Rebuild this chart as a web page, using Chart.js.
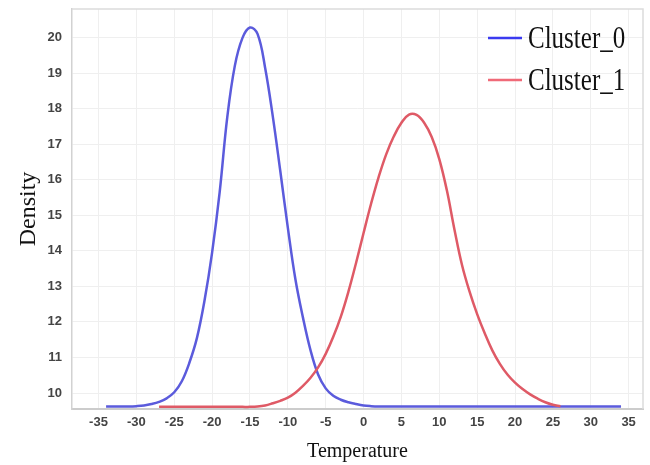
<!DOCTYPE html>
<html>
<head>
<meta charset="utf-8">
<script src="https://cdn.jsdelivr.net/npm/chart.js@4.4.0/dist/chart.umd.min.js"></script>
<style>
  html, body { margin: 0; padding: 0; background: #fff; }
  #wrap { width: 650px; height: 465px; }
</style>
</head>
<body>
<div id="wrap"><canvas id="myChart" width="650" height="465"></canvas></div>
<script>
// temperature grid shared by both curves
const temperatures = [
  -34, -33, -32, -31, -30, -29, -28, -27, -26, -25, -24, -23, -22, -21, -20, -19, -18,
  -17, -16, -15, -14, -13, -12, -11, -10, -9, -8, -7, -6, -5, -4, -3, -2, -1,
  0, 1, 2, 3, 4, 5, 6, 7, 8, 9, 10, 11, 12, 13, 14, 15, 16,
  17, 18, 19, 20, 21, 22, 23, 24, 25, 26, 27, 28, 29, 30, 31, 32, 33, 34
];

const cluster0 = [
  9.62, 9.62, 9.62, 9.62, 9.63, 9.65, 9.69, 9.75, 9.85, 10.02, 10.33, 10.85, 11.55, 12.6, 13.95, 15.65, 17.75,
  19.2, 19.98, 20.28, 20.1, 19.15, 17.8, 16.25, 14.65, 13.2, 12.12, 11.2, 10.52, 10.13, 9.92, 9.81, 9.74, 9.69,
  9.65, 9.63, 9.62, 9.62, 9.62, 9.62, 9.62, 9.62, 9.62, 9.62, 9.62, 9.62, 9.62, 9.62, 9.62, 9.62, 9.62,
  9.62, 9.62, 9.62, 9.62, 9.62, 9.62, 9.62, 9.62, 9.62, 9.62, 9.62, 9.62, 9.62, 9.62, 9.62, 9.62, 9.62, 9.62
];

const cluster1 = [
  null, null, null, null, null, null, null, 9.61, 9.61, 9.61, 9.61, 9.61, 9.61, 9.61, 9.61, 9.61, 9.61,
  9.61, 9.61, 9.61, 9.62, 9.65, 9.71, 9.78, 9.87, 10.01, 10.2, 10.43, 10.72, 11.1, 11.58, 12.15, 12.85, 13.65,
  14.5, 15.33, 16.08, 16.72, 17.22, 17.6, 17.83, 17.82, 17.6, 17.2, 16.58, 15.7, 14.6, 13.6, 12.85, 12.22, 11.68,
  11.2, 10.82, 10.52, 10.29, 10.11, 9.96, 9.84, 9.74, 9.67, 9.63, null, null, null, null, null, null, null, null
];

const seriesNames = ['Cluster_0', 'Cluster_1'];
const xTicks = [-35, -30, -25, -20, -15, -10, -5, 0, 5, 10, 15, 20, 25, 30, 35];
const yTicks = [10, 11, 12, 13, 14, 15, 16, 17, 18, 19, 20];

function toPoints(values) {
  return temperatures.map((t, i) => ({ x: t, y: values[i] }));
}

// frame round the plot (top and right edges)
const frame = {
  id: 'frame',
  beforeDatasetsDraw(chart) {
    const { ctx, chartArea: a } = chart;
    ctx.save();
    ctx.strokeStyle = '#dcdcdc';
    ctx.lineWidth = 1.5;
    ctx.beginPath();
    ctx.moveTo(a.left, a.top);
    ctx.lineTo(a.right, a.top);
    ctx.lineTo(a.right, a.bottom);
    ctx.stroke();
    ctx.restore();
  }
};

// legend drawn inside the plot, top right
const innerLegend = {
  id: 'innerLegend',
  afterDraw(chart) {
    const ctx = chart.ctx;
    const rows = [38, 80];
    chart.data.datasets.forEach((ds, i) => {
      const y = rows[i];
      ctx.save();
      ctx.strokeStyle = ds.legendColor;
      ctx.lineWidth = 2.5;
      ctx.beginPath();
      ctx.moveTo(488, y);
      ctx.lineTo(522, y);
      ctx.stroke();
      ctx.translate(528, y + 1);
      ctx.scale(1, 1.3);
      ctx.fillStyle = '#111';
      ctx.font = '25px "Liberation Serif", "Times New Roman", serif';
      ctx.textBaseline = 'middle';
      ctx.fillText(ds.label, 0, 0);
      ctx.restore();
    });
  }
};

document.addEventListener('DOMContentLoaded', function () {
  const ctx = document.getElementById('myChart').getContext('2d');

  const data = {
    datasets: [{
      label: seriesNames[0],
      data: toPoints(cluster0),
      borderColor: '#5b5bdc',
      legendColor: '#3b3bf0',
      borderWidth: 2.5,
      pointRadius: 0,
      tension: 0.4,
      order: 1
    }, {
      label: seriesNames[1],
      data: toPoints(cluster1),
      borderColor: '#df5a66',
      legendColor: '#f06a78',
      borderWidth: 2.5,
      pointRadius: 0,
      tension: 0.4,
      order: 0
    }]
  };

  const tickFont = { family: '"Liberation Sans", Arial, sans-serif', size: 13, weight: 'bold' };
  const titleFont = { family: '"Liberation Serif", "Times New Roman", serif' };

  new Chart(ctx, {
    type: 'line',
    data: data,
    options: {
      responsive: false,
      animation: false,
      layout: { padding: { left: 0, right: 7, top: 9, bottom: 0 } },
      plugins: { legend: { display: false }, tooltip: { enabled: false } },
      scales: {
        x: {
          type: 'linear',
          min: -38.5,
          max: 36.9,
          afterBuildTicks: scale => { scale.ticks = xTicks.map(v => ({ value: v })); },
          afterFit: scale => { scale.height = 56; scale.paddingLeft = 0; scale.paddingRight = 0; },
          grid: { color: '#efefef', drawTicks: false },
          border: { color: '#cccccc', width: 2 },
          ticks: { font: tickFont, color: '#444', padding: 6, maxRotation: 0 },
          title: { display: true, text: 'Temperature', color: '#111',
                   font: Object.assign({ size: 20 }, titleFont), padding: { top: 0, bottom: 1 } }
        },
        y: {
          min: 9.55,
          max: 20.8,
          afterBuildTicks: scale => { scale.ticks = yTicks.map(v => ({ value: v })); },
          afterFit: scale => { scale.width = 72; scale.paddingTop = 0; scale.paddingBottom = 0; },
          grid: { color: '#efefef', drawTicks: false },
          border: { color: '#d2d2d2', width: 1.5 },
          ticks: { font: tickFont, color: '#444', padding: 10 },
          title: { display: true, text: 'Density', color: '#111',
                   font: Object.assign({ size: 24 }, titleFont), padding: { top: 14, bottom: 0 } }
        }
      }
    },
    plugins: [frame, innerLegend]
  });
});
</script>
</body>
</html>
